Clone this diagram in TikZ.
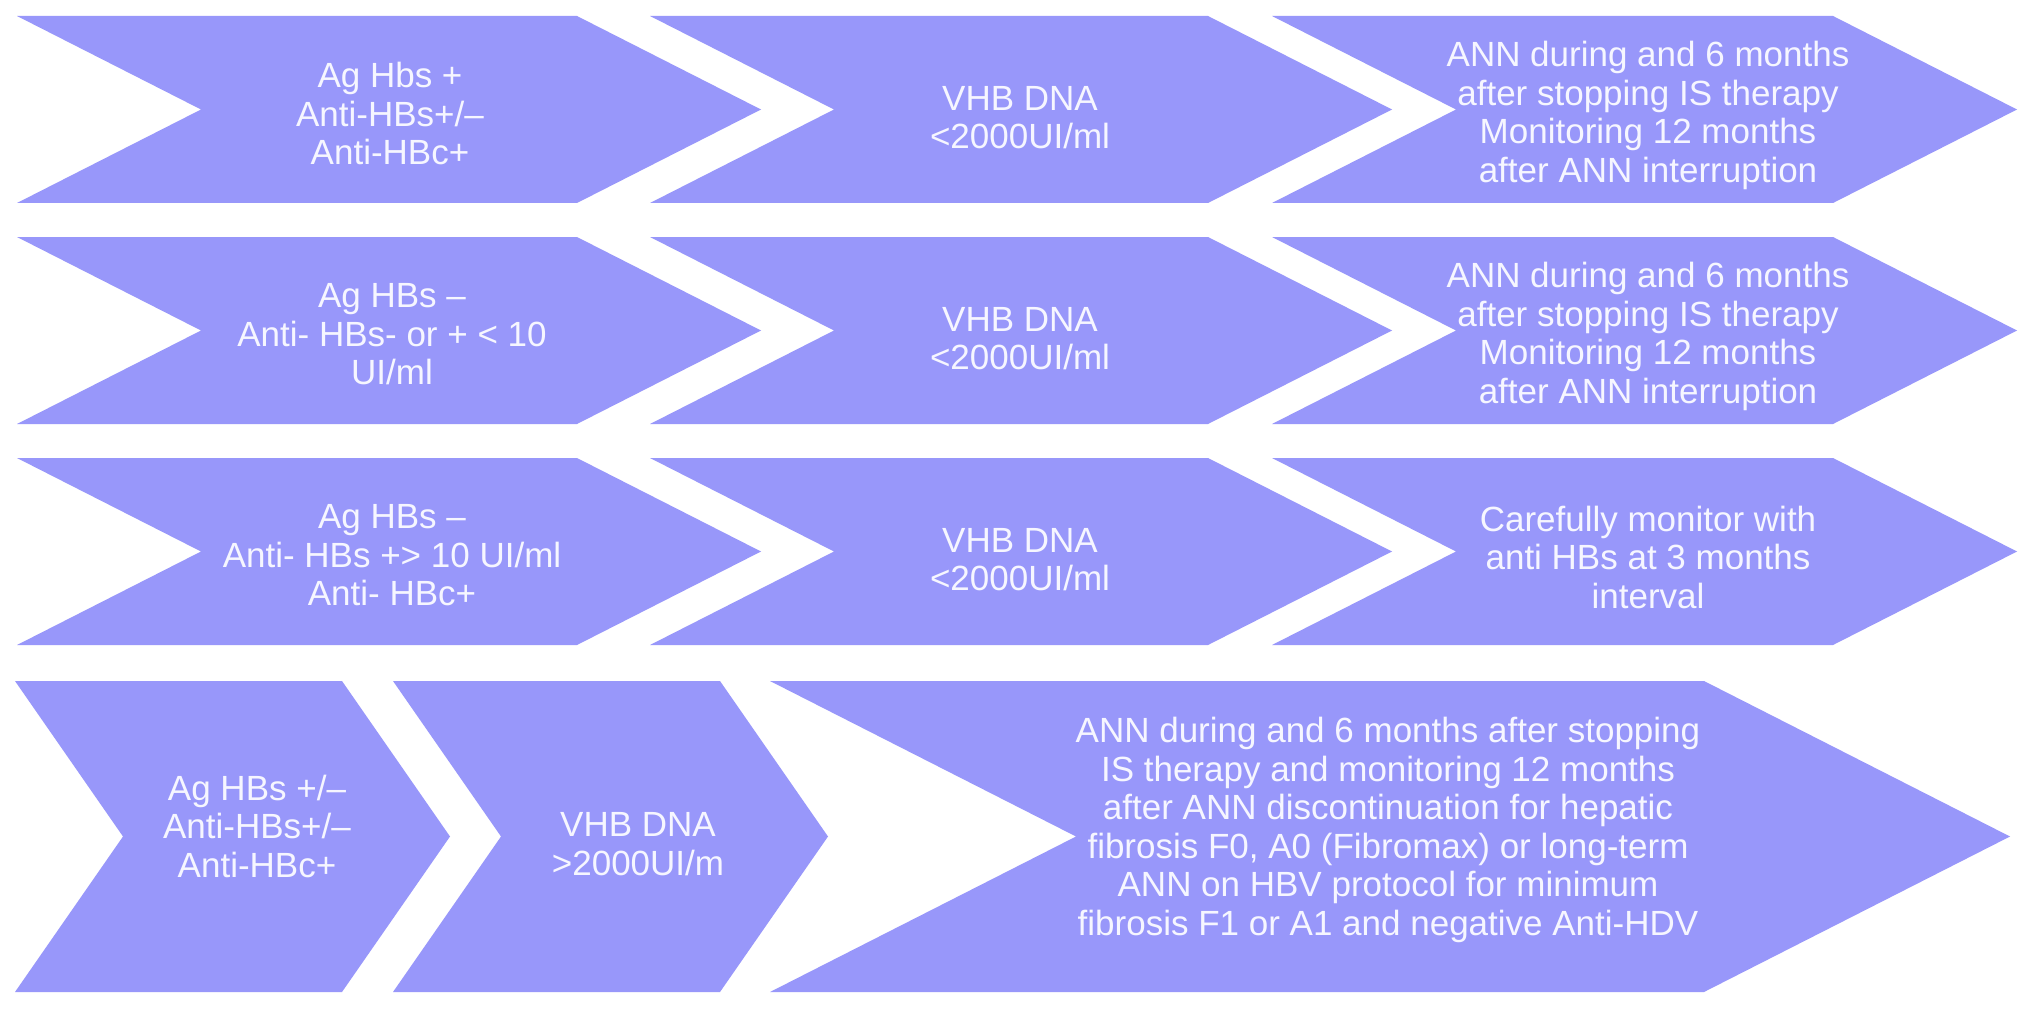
\documentclass[tikz,border=0pt]{standalone}
\usepackage{fontspec}
\setmainfont{Liberation Sans}[Ligatures=CommonOff]
\definecolor{chevblue}{RGB}{152,151,250}
\definecolor{chevtext}{RGB}{246,246,255}
\tikzset{
  chevfill/.style={fill=chevblue, draw=none},
  lbl/.style={text=chevtext, align=center, inner sep=0pt,
              font=\fontsize{35}{38.5}\selectfont}
}
% #1 left x, #2 body right x, #3 top y, #4 bottom y, #5 point depth
\newcommand{\chevshape}[5]{%
  \path[chevfill] (#1,#3) -- (#2,#3) -- ({#2+#5},{(#3+#4)/2}) -- (#2,#4)
    -- (#1,#4) -- ({#1+#5},{(#3+#4)/2}) -- cycle;}
\begin{document}
\begin{tikzpicture}[x=1pt,y=-1pt]
\useasboundingbox[fill=white] (0,0) rectangle (2031,1011);
% rows 1-3
\foreach \t/\b in {16/203,237/424,458/645}{
  \chevshape{17}{577}{\t}{\b}{184}
  \chevshape{650}{1208}{\t}{\b}{184}
  \chevshape{1272}{1833}{\t}{\b}{184}
}
% row 4
\chevshape{15}{342}{681}{992}{108}
\chevshape{393}{720}{681}{992}{108}
\chevshape{770}{1704}{681}{992}{306}

% row 1 texts
\node[lbl] (r1a) at (390,113.5) {Ag Hbs +\\Anti-HBs+/–\\Anti-HBc+};
\node[lbl] (r1b) at (1020,117.5) {VHB DNA\\<2000UI/ml};
\node[lbl] (r1c) at (1648,115.5) {ANN during and 6 months\\after stopping IS therapy\\Monitoring 12 months\\after ANN interruption};
% row 2 texts
\node[lbl] (r2a) at (392,334.5) {Ag HBs –\\Anti- HBs- or + < 10\\UI/ml};
\node[lbl] (r2b) at (1020,338.5) {VHB DNA\\<2000UI/ml};
\node[lbl] (r2c) at (1648,336.5) {ANN during and 6 months\\after stopping IS therapy\\Monitoring 12 months\\after ANN interruption};
% row 3 texts
\node[lbl] (r3a) at (392,555.5) {Ag HBs –\\Anti- HBs +> 10 UI/ml\\Anti- HBc+};
\node[lbl] (r3b) at (1020,559.5) {VHB DNA\\<2000UI/ml};
\node[lbl] (r3c) at (1648,557) {Carefully monitor with\\anti HBs at 3 months\\interval};
% row 4 texts
\node[lbl] (r4a) at (257,826) {Ag HBs +/–\\Anti-HBs+/–\\Anti-HBc+};
\node[lbl] (r4b) at (638,844) {VHB DNA\\>2000UI/m};
\node[lbl] (r4c) at (1388,830) {ANN during and 6 months after stopping\\IS therapy and monitoring 12 months\\after ANN discontinuation for hepatic\\fibrosis F0, A0 (Fibromax) or long-term\\ANN on HBV protocol for minimum\\fibrosis F1 or A1 and negative Anti-HDV};
\end{tikzpicture}
\end{document}
